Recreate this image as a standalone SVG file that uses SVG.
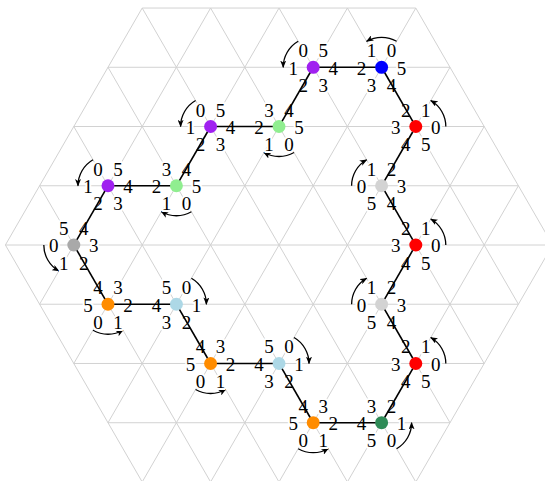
<svg xmlns="http://www.w3.org/2000/svg" width="545" height="481" viewBox="0 0 545 481">
<style>
.grid{fill:none;stroke:#d2d2d2;stroke-width:1}
.edge{fill:none;stroke:#000;stroke-width:1.6;stroke-linecap:butt}
.arc{fill:none;stroke:#000;stroke-width:1.3;marker-end:url(#ah)}
.node text{font-family:"Liberation Serif","DejaVu Serif",serif;font-size:19px;text-anchor:middle;fill:#000;stroke:#fff;stroke-width:4;stroke-linejoin:round;paint-order:stroke fill}
</style>
<defs>
<marker id="ah" viewBox="0 0 10 8" refX="9" refY="4" markerWidth="7.5" markerHeight="6" markerUnits="userSpaceOnUse" orient="auto">
<path d="M0,0 L10,4 L0,8 L2.5,4 z" fill="#000"/>
</marker>
</defs>
<rect width="545" height="481" fill="#fff"/>
<g id="lattice" class="grid">
<path d="M142.2,8.04H415.8M108,67.28H450M73.8,126.52H484.2M39.6,185.76H518.4M5.4,245H552.6M39.6,304.24H518.4M73.8,363.48H484.2M108,422.72H450M142.2,481.96H415.8"/>
<path d="M5.4,245L142.2,481.96M39.6,185.76L210.6,481.96M73.8,126.52L279,481.96M108,67.28L347.4,481.96M142.2,8.04L415.8,481.96M210.6,8.04L450,422.72M279,8.04L484.2,363.48M347.4,8.04L518.4,304.24M415.8,8.04L552.6,245"/>
<path d="M552.6,245L415.8,481.96M518.4,185.76L347.4,481.96M484.2,126.52L279,481.96M450,67.28L210.6,481.96M415.8,8.04L142.2,481.96M347.4,8.04L108,422.72M279,8.04L73.8,363.48M210.6,8.04L39.6,304.24M142.2,8.04L5.4,245"/>
</g>

<g id="n1" class="node" transform="translate(313.2,67.28)">
<path class="arc" d="M-15,-25.98A30,30 0 0 0 -30,0"/>
<text x="20" y="7.3">4</text><text x="10" y="-10">5</text><text x="-10" y="-10">0</text><text x="-20" y="7.3">1</text><text x="-10" y="24.6">2</text><text x="10" y="24.6">3</text>
<circle r="6.5" fill="#A020F0"/>
</g>
<g id="n2" class="node" transform="translate(381.6,67.28)">
<path class="arc" d="M15,-25.98A30,30 0 0 0 -15,-25.98"/>
<text x="20" y="7.3">5</text><text x="10" y="-10">0</text><text x="-10" y="-10">1</text><text x="-20" y="7.3">2</text><text x="-10" y="24.6">3</text><text x="10" y="24.6">4</text>
<circle r="6.5" fill="#0000FF"/>
</g>
<g id="n3" class="node" transform="translate(415.8,126.52)">
<path class="arc" d="M30,0A30,30 0 0 0 15,-25.98"/>
<text x="20" y="7.3">0</text><text x="10" y="-10">1</text><text x="-10" y="-10">2</text><text x="-20" y="7.3">3</text><text x="-10" y="24.6">4</text><text x="10" y="24.6">5</text>
<circle r="6.5" fill="#FF0000"/>
</g>
<g id="n4" class="node" transform="translate(381.6,185.76)">
<path class="arc" d="M-30,0A30,30 0 0 1 -15,-25.98"/>
<text x="20" y="7.3">3</text><text x="10" y="-10">2</text><text x="-10" y="-10">1</text><text x="-20" y="7.3">0</text><text x="-10" y="24.6">5</text><text x="10" y="24.6">4</text>
<circle r="6.5" fill="#D3D3D3"/>
</g>
<g id="n5" class="node" transform="translate(415.8,245)">
<path class="arc" d="M30,0A30,30 0 0 0 15,-25.98"/>
<text x="20" y="7.3">0</text><text x="10" y="-10">1</text><text x="-10" y="-10">2</text><text x="-20" y="7.3">3</text><text x="-10" y="24.6">4</text><text x="10" y="24.6">5</text>
<circle r="6.5" fill="#FF0000"/>
</g>
<g id="n6" class="node" transform="translate(381.6,304.24)">
<path class="arc" d="M-30,0A30,30 0 0 1 -15,-25.98"/>
<text x="20" y="7.3">3</text><text x="10" y="-10">2</text><text x="-10" y="-10">1</text><text x="-20" y="7.3">0</text><text x="-10" y="24.6">5</text><text x="10" y="24.6">4</text>
<circle r="6.5" fill="#D3D3D3"/>
</g>
<g id="n7" class="node" transform="translate(415.8,363.48)">
<path class="arc" d="M30,0A30,30 0 0 0 15,-25.98"/>
<text x="20" y="7.3">0</text><text x="10" y="-10">1</text><text x="-10" y="-10">2</text><text x="-20" y="7.3">3</text><text x="-10" y="24.6">4</text><text x="10" y="24.6">5</text>
<circle r="6.5" fill="#FF0000"/>
</g>
<g id="n8" class="node" transform="translate(381.6,422.72)">
<path class="arc" d="M15,25.98A30,30 0 0 0 30,0"/>
<text x="20" y="7.3">1</text><text x="10" y="-10">2</text><text x="-10" y="-10">3</text><text x="-20" y="7.3">4</text><text x="-10" y="24.6">5</text><text x="10" y="24.6">0</text>
<circle r="6.5" fill="#2E8B57"/>
</g>
<g id="n9" class="node" transform="translate(313.2,422.72)">
<path class="arc" d="M-15,25.98A30,30 0 0 0 15,25.98"/>
<text x="20" y="7.3">2</text><text x="10" y="-10">3</text><text x="-10" y="-10">4</text><text x="-20" y="7.3">5</text><text x="-10" y="24.6">0</text><text x="10" y="24.6">1</text>
<circle r="6.5" fill="#FF8C00"/>
</g>
<g id="n10" class="node" transform="translate(279,363.48)">
<path class="arc" d="M15,-25.98A30,30 0 0 1 30,0"/>
<text x="20" y="7.3">1</text><text x="10" y="-10">0</text><text x="-10" y="-10">5</text><text x="-20" y="7.3">4</text><text x="-10" y="24.6">3</text><text x="10" y="24.6">2</text>
<circle r="6.5" fill="#ADD8E6"/>
</g>
<g id="n11" class="node" transform="translate(210.6,363.48)">
<path class="arc" d="M-15,25.98A30,30 0 0 0 15,25.98"/>
<text x="20" y="7.3">2</text><text x="10" y="-10">3</text><text x="-10" y="-10">4</text><text x="-20" y="7.3">5</text><text x="-10" y="24.6">0</text><text x="10" y="24.6">1</text>
<circle r="6.5" fill="#FF8C00"/>
</g>
<g id="n12" class="node" transform="translate(176.4,304.24)">
<path class="arc" d="M15,-25.98A30,30 0 0 1 30,0"/>
<text x="20" y="7.3">1</text><text x="10" y="-10">0</text><text x="-10" y="-10">5</text><text x="-20" y="7.3">4</text><text x="-10" y="24.6">3</text><text x="10" y="24.6">2</text>
<circle r="6.5" fill="#ADD8E6"/>
</g>
<g id="n13" class="node" transform="translate(108,304.24)">
<path class="arc" d="M-15,25.98A30,30 0 0 0 15,25.98"/>
<text x="20" y="7.3">2</text><text x="10" y="-10">3</text><text x="-10" y="-10">4</text><text x="-20" y="7.3">5</text><text x="-10" y="24.6">0</text><text x="10" y="24.6">1</text>
<circle r="6.5" fill="#FF8C00"/>
</g>
<g id="n14" class="node" transform="translate(73.8,245)">
<path class="arc" d="M-30,0A30,30 0 0 0 -15,25.98"/>
<text x="20" y="7.3">3</text><text x="10" y="-10">4</text><text x="-10" y="-10">5</text><text x="-20" y="7.3">0</text><text x="-10" y="24.6">1</text><text x="10" y="24.6">2</text>
<circle r="6.5" fill="#A9A9A9"/>
</g>
<g id="n15" class="node" transform="translate(108,185.76)">
<path class="arc" d="M-15,-25.98A30,30 0 0 0 -30,0"/>
<text x="20" y="7.3">4</text><text x="10" y="-10">5</text><text x="-10" y="-10">0</text><text x="-20" y="7.3">1</text><text x="-10" y="24.6">2</text><text x="10" y="24.6">3</text>
<circle r="6.5" fill="#A020F0"/>
</g>
<g id="n16" class="node" transform="translate(176.4,185.76)">
<path class="arc" d="M15,25.98A30,30 0 0 1 -15,25.98"/>
<text x="20" y="7.3">5</text><text x="10" y="-10">4</text><text x="-10" y="-10">3</text><text x="-20" y="7.3">2</text><text x="-10" y="24.6">1</text><text x="10" y="24.6">0</text>
<circle r="6.5" fill="#90EE90"/>
</g>
<g id="n17" class="node" transform="translate(210.6,126.52)">
<path class="arc" d="M-15,-25.98A30,30 0 0 0 -30,0"/>
<text x="20" y="7.3">4</text><text x="10" y="-10">5</text><text x="-10" y="-10">0</text><text x="-20" y="7.3">1</text><text x="-10" y="24.6">2</text><text x="10" y="24.6">3</text>
<circle r="6.5" fill="#A020F0"/>
</g>
<g id="n18" class="node" transform="translate(279,126.52)">
<path class="arc" d="M15,25.98A30,30 0 0 1 -15,25.98"/>
<text x="20" y="7.3">5</text><text x="10" y="-10">4</text><text x="-10" y="-10">3</text><text x="-20" y="7.3">2</text><text x="-10" y="24.6">1</text><text x="10" y="24.6">0</text>
<circle r="6.5" fill="#90EE90"/>
</g>

<g id="connectors" class="edge">
<path d="M319.5,67.28H375.3"/>
<path d="M384.75,72.74L412.65,121.06"/>
<path d="M412.65,131.98L384.75,180.3"/>
<path d="M384.75,191.22L412.65,239.54"/>
<path d="M412.65,250.46L384.75,298.78"/>
<path d="M384.75,309.7L412.65,358.02"/>
<path d="M412.65,368.94L384.75,417.26"/>
<path d="M375.3,422.72H319.5"/>
<path d="M310.05,417.26L282.15,368.94"/>
<path d="M272.7,363.48H216.9"/>
<path d="M207.45,358.02L179.55,309.7"/>
<path d="M170.1,304.24H114.3"/>
<path d="M104.85,298.78L76.95,250.46"/>
<path d="M76.95,239.54L104.85,191.22"/>
<path d="M114.3,185.76H170.1"/>
<path d="M179.55,180.3L207.45,131.98"/>
<path d="M216.9,126.52H272.7"/>
<path d="M282.15,121.06L310.05,72.74"/>
</g>
</svg>
